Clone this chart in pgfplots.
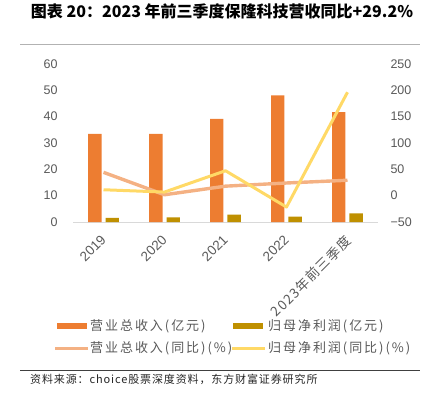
\documentclass[border=0pt]{standalone}
\usepackage{pgfplots}
\pgfplotsset{compat=1.18}
\usepackage{fontspec}
\setmainfont{Liberation Sans}
\newfontfamily\cjk{Noto Sans CJK SC}
\newfontfamily\cjkl{Noto Sans CJK SC}[LetterSpace=8]
\newfontfamily\cjkg{Noto Sans CJK SC}[LetterSpace=15]
\definecolor{rev}{HTML}{ED7D31}
\definecolor{np}{HTML}{BF9000}
\definecolor{revg}{HTML}{F4B183}
\definecolor{npg}{HTML}{FFD966}
\definecolor{txt}{HTML}{595959}
\begin{document}
\begin{tikzpicture}[x=1pt,y=1pt]
\path (0pt,0pt) rectangle (430pt,397pt);
\node[font=\cjk\bfseries\fontsize{16}{19}\selectfont, anchor=center] at (222pt,389pt) {图表 20：2023 年前三季度保隆科技营收同比+29.2\%};
\draw[gray!60, line width=0.8pt] (20pt,356pt) -- (420pt,356pt);
\draw[black!75, line width=1pt] (20pt,30pt) -- (420pt,30pt);
\node[font=\cjkl\fontsize{11}{13}\selectfont, anchor=west, text=black!85, inner sep=0] at (30pt,21pt) {资料来源：choice股票深度资料，东方财富证券研究所};
% legend
\fill[rev] (57pt,71pt) rectangle (87pt,77pt);
\node[font=\cjkg\fontsize{13}{15}\selectfont, anchor=west, text=txt, inner sep=0] at (90pt,74pt) {营业总收入(亿元)};
\fill[np] (233pt,71pt) rectangle (263pt,77pt);
\node[font=\cjkg\fontsize{13}{15}\selectfont, anchor=west, text=txt, inner sep=0] at (268pt,74pt) {归母净利润(亿元)};
\draw[revg, line width=3pt] (55pt,51.7pt) -- (88pt,51.7pt);
\node[font=\cjkg\fontsize{13}{15}\selectfont, anchor=west, text=txt, inner sep=0] at (90pt,51.7pt) {营业总收入(同比)(\%)};
\draw[npg, line width=3pt] (232pt,51.7pt) -- (265pt,51.7pt);
\node[font=\cjkg\fontsize{13}{15}\selectfont, anchor=west, text=txt, inner sep=0] at (268pt,51.7pt) {归母净利润(同比)(\%)};
\begin{axis}[
  at={(73pt,178pt)}, anchor=south west, scale only axis,
  width=305pt, height=158.3pt,
  xmin=-0.5, xmax=4.5, ymin=0, ymax=60,
  axis y line*=left, axis x line*=bottom,
  y axis line style={draw=none},
  x axis line style={draw=black!15, line width=0.8pt},
  axis line style={-},
  major tick length=0pt,
  ytick={0,10,...,60},
  yticklabel style={text=txt, font=\fontsize{12.5}{14}\selectfont, xshift=-12pt},
  /pgf/number format/assume math mode=true,
  xtick={0,1,2,3,4},
  xticklabels={2019,2020,2021,2022,{\cjkl 2023年前三季度}},
  xticklabel style={text=txt, font=\fontsize{13.5}{15}\selectfont, rotate=45, anchor=north east, inner sep=1pt, yshift=-5pt, xshift=-10pt},
  clip=false,
]
\addplot[ybar, bar width=13.4pt, bar shift=-8.7pt, fill=rev, draw=none] coordinates {(0,33.4) (1,33.4) (2,39.1) (3,48.0) (4,41.7)};
\addplot[ybar, bar width=13.4pt, bar shift=8.7pt, fill=np, draw=none] coordinates {(0,1.6) (1,1.8) (2,2.8) (3,2.1) (4,3.3)};
\end{axis}
\begin{axis}[
  at={(73pt,178pt)}, anchor=south west, scale only axis,
  width=305pt, height=158.3pt,
  xmin=-0.5, xmax=4.5, ymin=-50, ymax=250,
  axis y line*=right, axis x line=none,
  y axis line style={draw=none},
  major tick length=0pt,
  ytick={-50,0,50,100,150,200,250},
  yticklabels={−50,0,50,100,150,200,250},
  yticklabel style={text=txt, font=\fontsize{12.5}{14}\selectfont, xshift=9pt},
  clip=false,
]
\addplot[revg, line width=3.4pt, line join=round] coordinates {(0,44.2) (1,1.7) (2,18) (3,24) (4,29.2)};
\addplot[npg, line width=3pt, line join=round] coordinates {(0,11.2) (1,6.8) (2,47.2) (3,-21.6) (4,196)};
\end{axis}
\end{tikzpicture}
\end{document}
